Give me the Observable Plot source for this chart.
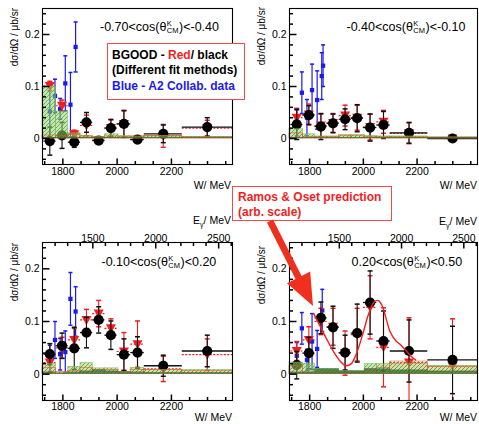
<!DOCTYPE html>
<html><head><meta charset="utf-8">
<script src="https://cdn.jsdelivr.net/npm/d3@7"></script>
<script src="https://cdn.jsdelivr.net/npm/@observablehq/plot@0.6"></script>
<style>
body{margin:0;background:#fff;}
#wrap{position:relative;width:479px;height:424px;overflow:hidden;font-family:"Liberation Sans",Arial,Helvetica,sans-serif;color:#000;}
.panel{position:absolute;}
.ttl{position:absolute;white-space:nowrap;font-size:12.5px;display:flex;align-items:center;height:18px;}
.ss{display:inline-flex;flex-direction:column;font-size:7.5px;line-height:7.5px;margin:0 0.5px;}
.ylab{position:absolute;writing-mode:vertical-rl;transform:rotate(180deg);font-size:10px;line-height:12px;white-space:nowrap;}
.unit{position:absolute;font-size:10.5px;white-space:nowrap;transform:translate(-100%,-50%);}
.box{position:absolute;background:#fff;border:1.3px solid #ef4a4a;font-weight:bold;font-size:12px;line-height:15.3px;padding:4px 0 0 4px;box-sizing:border-box;white-space:nowrap;}
</style></head>
<body><div id="wrap"></div>
<svg width="0" height="0" style="position:absolute">
<defs>
<pattern id="hatchG" patternUnits="userSpaceOnUse" width="4" height="4">
<rect width="4" height="4" fill="rgba(140,215,110,0.55)"/>
<path d="M-1,1 l2,-2 M0,4 l4,-4 M3,5 l2,-2" stroke="rgba(100,145,45,0.85)" stroke-width="0.8"/>
</pattern>
<pattern id="hatchR" patternUnits="userSpaceOnUse" width="4" height="4">
<path d="M-1,1 l2,-2 M0,4 l4,-4 M3,5 l2,-2" stroke="rgba(215,95,45,0.85)" stroke-width="0.8"/>
</pattern>
</defs></svg>
<script>
// ---------- data ----------
const W     = [1752, 1797, 1842, 1887, 1932, 1977, 2025, 2075, 2170, 2332];
const binLo = [1730, 1775, 1820, 1865, 1910, 1955, 2000, 2050, 2100, 2240];
const binHi = [1775, 1820, 1865, 1910, 1955, 2000, 2050, 2100, 2240, 2425];
const sysLo = [1725, 1775, 1820, 1865, 1910, 1955, 2005, 2050, 2100, 2240];
const sysHi = [1775, 1820, 1865, 1910, 1955, 2005, 2050, 2100, 2240, 2425];

const cosLo = ["-0.70", "-0.40", "-0.10", "0.20"];
const cosHi = ["-0.40", "-0.10", "0.20", "0.50"];

// panel 1: -0.70..-0.40
const black1    = [-0.005, 0.006, -0.007, 0.031, -0.004, 0.020, 0.028, -0.002, 0.009, 0.022];
const blackErr1 = [0.027, 0.025, 0.010, 0.019, 0.006, 0.016, 0.026, 0.005, 0.017, 0.018];
const red1      = [0.101, 0.063, 0.008, 0.025, -0.003, 0.020, 0.028, -0.002, 0.005, 0.020];
const redErr1   = [0.009, 0.011, 0.008, 0.020, 0.005, 0.017, 0.025, 0.005, 0.022, 0.015];
const blueW1    = [1752, 1771, 1790, 1809, 1828, 1847];
const blue1     = [0.052, 0.082, 0.057, 0.106, 0.065, 0.176];
const blueErr1  = [0.055, 0.032, 0.020, 0.053, 0.062, 0.048];
const sysLight1 = [0.100, 0.052, 0.010, 0.005, 0.003, 0.008, 0.005, 0.003, 0.005, 0.003];
const sysDark1  = [0.002, 0.002, 0.002, 0.002, 0.002, 0.002, 0.002, 0.002, 0.002, 0.002];
const sysRed1   = [0.006, 0.004, 0.008, 0.004, 0.002, 0.004, 0.003, 0.004, 0.005, 0.003];

// panel 2: -0.40..-0.10
const black2    = [0.027, 0.045, 0.023, 0.029, 0.037, 0.039, 0.021, 0.026, 0.011, 0.000];
const blackErr2 = [0.029, 0.018, 0.025, 0.018, 0.020, 0.026, 0.026, 0.026, 0.020, 0.004];
const red2      = [0.040, 0.046, 0.025, 0.030, 0.044, 0.040, 0.022, 0.032, 0.010, 0.000];
const redErr2   = [0.018, 0.020, 0.022, 0.018, 0.020, 0.024, 0.025, 0.022, 0.020, 0.004];
const blueW2    = [1752, 1771, 1790, 1809, 1828, 1845, 1850];
const blue2     = [0.030, 0.088, 0.040, 0.093, 0.074, 0.120, 0.140];
const blueErr2  = [0.025, 0.040, 0.035, 0.050, 0.056, 0.045, 0.040];
const sysLight2 = [0.018, 0.008, 0.004, 0.004, 0.007, 0.007, 0.005, 0.004, 0.004, 0.002];
const sysDark2  = [0.002, 0.002, 0.002, 0.002, 0.002, 0.002, 0.002, 0.002, 0.002, 0.002];
const sysRed2   = [0.010, 0.003, 0.003, 0.003, 0.005, 0.005, 0.003, 0.003, 0.003, 0.002];

// panel 3: -0.10..0.20
const black3    = [0.038, 0.054, 0.049, 0.079, 0.103, 0.074, 0.037, 0.041, 0.016, 0.044];
const blackErr3 = [0.020, 0.024, 0.040, 0.029, 0.025, 0.027, 0.030, 0.030, 0.020, 0.030];
const red3      = [0.022, 0.050, 0.065, 0.103, 0.115, 0.087, 0.043, 0.057, 0.010, 0.037];
const redErr3   = [0.020, 0.020, 0.022, 0.020, 0.025, 0.018, 0.036, 0.044, 0.024, 0.030];
const blueW3    = [1752, 1771, 1790, 1809, 1828, 1847];
const blue3     = [0.030, 0.065, 0.038, 0.042, 0.143, 0.119];
const blueErr3  = [0.025, 0.035, 0.030, 0.040, 0.050, 0.047];
const sysLight3 = [0.019, 0.003, 0.014, 0.021, 0.011, 0.011, 0.004, 0.012, 0.008, 0.008];
const sysDark3  = [0.004, 0.002, 0.004, 0.006, 0.008, 0.006, 0.004, 0.004, 0.003, 0.003];
const sysRed3   = [0.012, 0.004, 0.006, 0.012, 0.008, 0.008, 0.004, 0.008, 0.008, 0.006];

// panel 4: 0.20..0.50
const black4    = [0.017, 0.040, 0.107, 0.089, 0.041, 0.078, 0.136, 0.063, 0.044, 0.027];
const blackErr4 = [0.026, 0.030, 0.030, 0.040, 0.033, 0.055, 0.060, 0.057, 0.059, 0.064];
const red4      = [0.044, 0.065, 0.100, 0.090, 0.040, 0.075, 0.127, 0.051, 0.022, 0.015];
const redErr4   = [0.018, 0.025, 0.025, 0.035, 0.042, 0.050, 0.060, 0.075, 0.085, 0.090];
const blueW4    = [1752, 1771, 1790, 1809, 1828, 1847];
const blue4     = [0.035, 0.087, 0.027, 0.062, 0.048, 0.121];
const blueErr4  = [0.025, 0.030, 0.020, 0.053, 0.035, 0.040];
const sysLight4 = [0.022, 0.020, 0.010, 0.010, 0.006, 0.006, 0.019, 0.019, 0.020, 0.016];
const sysDark4  = [0.004, 0.004, 0.010, 0.010, 0.006, 0.006, 0.010, 0.010, 0.008, 0.006];
const sysRed4   = [0.015, 0.003, 0.003, 0.003, 0.003, 0.003, 0.010, 0.012, 0.024, 0.014];
// Ramos & Oset prediction (arb. scale)
const curveW = [1815, 1840, 1865, 1890, 1915, 1935, 1955, 1975, 2000, 2020, 2040, 2055, 2070, 2085, 2100, 2120, 2140, 2160, 2180, 2195];
const curveV = [0.115, 0.090, 0.065, 0.042, 0.024, 0.016, 0.020, 0.040, 0.080, 0.115, 0.137, 0.140, 0.130, 0.105, 0.080, 0.064, 0.055, 0.044, 0.033, 0.027];

// axis ticks
const yMajor = [0, 0.1, 0.2];
const yMinor = [-0.04, -0.02, 0.02, 0.04, 0.06, 0.08, 0.12, 0.14, 0.16, 0.18, 0.22, 0.24];
const xMajor = [1800, 2000, 2200];
const xMinor = [1733, 1867, 1933, 2067, 2133, 2267, 2333, 2400];
const egMajor = [1500, 2000, 2500];
const egMinor = [1200, 1300, 1400, 1600, 1700, 1800, 1900, 2100, 2200, 2300, 2400, 2600];
const wDomain = [1725, 2425];
const egDomain = [1100, 2610];

// ---------- helpers ----------
const sym = fn => ({draw(ctx, size){ const r = Math.sqrt(size / Math.PI); fn(ctx, r); }});
const capSym = sym((c, r) => { c.moveTo(-r, 0); c.lineTo(r, 0); });
const tickUp = sym((c, r) => { c.moveTo(0, 0); c.lineTo(0, -r); });
const tickDown = sym((c, r) => { c.moveTo(0, 0); c.lineTo(0, r); });
const tickRight = sym((c, r) => { c.moveTo(0, 0); c.lineTo(r, 0); });
const triDown = sym((c, r) => { c.moveTo(-r, -0.8 * r); c.lineTo(r, -0.8 * r); c.lineTo(0, r); c.closePath(); });
const egToW = e => wDomain[0] + (e - egDomain[0]) / (egDomain[1] - egDomain[0]) * (wDomain[1] - wDomain[0]);

const RED = "#f21e1e", BLUE = "#1a1af0";

const panels = [
  {black: black1, blackErr: blackErr1, red: red1, redErr: redErr1, blueW: blueW1, blue: blue1, blueErr: blueErr1, sysLight: sysLight1, sysDark: sysDark1, sysRed: sysRed1},
  {black: black2, blackErr: blackErr2, red: red2, redErr: redErr2, blueW: blueW2, blue: blue2, blueErr: blueErr2, sysLight: sysLight2, sysDark: sysDark2, sysRed: sysRed2},
  {black: black3, blackErr: blackErr3, red: red3, redErr: redErr3, blueW: blueW3, blue: blue3, blueErr: blueErr3, sysLight: sysLight3, sysDark: sysDark3, sysRed: sysRed3},
  {black: black4, blackErr: blackErr4, red: red4, redErr: redErr4, blueW: blueW4, blue: blue4, blueErr: blueErr4, sysLight: sysLight4, sysDark: sysDark4, sysRed: sysRed4, curve: true}
];
const geo = [
  {left: 0,   top: 0,   w: 240, h: 200, ml: 42, mr: 8, mt: 8,  mb: 36, topAxis: false, tp: 3},
  {left: 240, top: 0,   w: 239, h: 200, ml: 49, mr: 2, mt: 8,  mb: 36, topAxis: false, tp: 3},
  {left: 0,   top: 200, w: 240, h: 224, ml: 42, mr: 8, mt: 42, mb: 24, topAxis: true,  tp: 2},
  {left: 240, top: 200, w: 239, h: 224, ml: 49, mr: 2, mt: 42, mb: 24, topAxis: true,  tp: 2}
];

const wrap = document.getElementById("wrap");

panels.forEach((p, k) => {
  const g = geo[k];
  const rows = W.map((w, i) => ({w, lo: binLo[i], hi: binHi[i], b: p.black[i], be: p.blackErr[i], r: p.red[i], re: p.redErr[i]}));
  const blues = p.blueW.map((w, i) => ({w, v: p.blue[i], e: p.blueErr[i]}));
  const sys = sysLo.map((lo, i) => ({lo, hi: sysHi[i], L: p.sysLight[i], D: p.sysDark[i], R: p.sysRed[i]}));
  const marks = [
    // A2 data
    Plot.ruleX(blues, {x: "w", y1: d => d.v - d.e, y2: d => d.v + d.e, stroke: BLUE, strokeWidth: 1.2, clip: true}),
    Plot.dot(blues, {x: "w", y: d => d.v + d.e, symbol: capSym, r: 2, stroke: BLUE, clip: true}),
    Plot.dot(blues, {x: "w", y: d => d.v - d.e, symbol: capSym, r: 2, stroke: BLUE, clip: true}),
    Plot.dot(blues, {x: "w", y: "v", symbol: "square", r: 2.4, fill: BLUE, stroke: "none"}),
    // red fit method
    Plot.ruleX(rows, {x: "w", y1: d => d.r - d.re, y2: d => d.r + d.re, stroke: RED, strokeWidth: 1.1, clip: true}),
    Plot.dot(rows, {x: "w", y: d => d.r + d.re, symbol: capSym, r: 2.5, stroke: RED, clip: true}),
    Plot.dot(rows, {x: "w", y: d => d.r - d.re, symbol: capSym, r: 2.5, stroke: RED, clip: true}),
    Plot.ruleY(rows, {y: "r", x1: "lo", x2: "hi", stroke: RED, strokeWidth: 1.2, strokeDasharray: "2,1.5", clip: true}),
    Plot.dot(rows, {x: "w", y: "r", symbol: triDown, r: 5, fill: RED, stroke: "none"}),
    // black fit method
    Plot.ruleX(rows, {x: "w", y1: d => d.b - d.be, y2: d => d.b + d.be, stroke: "#111", strokeWidth: 1.1, clip: true}),
    Plot.dot(rows, {x: "w", y: d => d.b + d.be, symbol: capSym, r: 2.5, stroke: "#111", clip: true}),
    Plot.dot(rows, {x: "w", y: d => d.b - d.be, symbol: capSym, r: 2.5, stroke: "#111", clip: true}),
    Plot.ruleY(rows, {y: "b", x1: "lo", x2: "hi", stroke: "#111", strokeWidth: 1.3, clip: true}),
    Plot.dot(rows, {x: "w", y: "b", r: 5.1, fill: "#000", stroke: "none"}),
    // systematic bands
    Plot.rect(sys, {x1: "lo", x2: "hi", y1: 0, y2: "L", fill: "url(#hatchG)", stroke: "rgba(120,170,70,0.8)", strokeWidth: 0.6}),
    Plot.rect(sys, {x1: "lo", x2: "hi", y1: 0, y2: "R", fill: "url(#hatchR)", stroke: "rgba(225,90,50,0.8)", strokeWidth: 0.7}),
    Plot.rect(sys, {x1: "lo", x2: "hi", y1: 0, y2: "D", fill: "rgba(45,105,45,0.75)"}),
  ];
  if (p.curve) {
    marks.push(Plot.line(curveW.map((w, i) => ({w, v: curveV[i]})), {x: "w", y: "v", stroke: RED, strokeWidth: 1.4, curve: "catmull-rom"}));
  }
  marks.push(
    Plot.dot(yMajor, {y: d => d, frameAnchor: "left", symbol: tickRight, r: 7, stroke: "#000"}),
    Plot.dot(yMinor, {y: d => d, frameAnchor: "left", symbol: tickRight, r: 3.5, stroke: "#000"}),
    Plot.dot(xMajor, {x: d => d, frameAnchor: "bottom", symbol: tickUp, r: 6, stroke: "#000"}),
    Plot.dot(xMinor, {x: d => d, frameAnchor: "bottom", symbol: tickUp, r: 3.5, stroke: "#000"}),
    Plot.axisY({ticks: yMajor, tickSize: 0, tickPadding: 3, label: null, fontSize: 10.5, tickFormat: d => d === 0 ? "0" : d.toFixed(1)}),
    Plot.axisX({ticks: xMajor, tickSize: 0, tickPadding: g.tp, label: null, fontSize: 10.5, tickFormat: d => String(d)}),
    Plot.frame({stroke: "#000", strokeWidth: 1.1})
  );
  if (g.topAxis) {
    marks.push(
      Plot.dot(egMajor, {x: d => egToW(d), frameAnchor: "top", symbol: tickDown, r: 6, stroke: "#000"}),
      Plot.dot(egMinor, {x: d => egToW(d), frameAnchor: "top", symbol: tickDown, r: 3.5, stroke: "#000"}),
      Plot.text(egMajor, {x: d => egToW(d), frameAnchor: "top", dy: -8, text: d => String(d), fontSize: 10.5, fill: "#000"})
    );
  }
  const chart = Plot.plot({
    width: g.w, height: g.h,
    marginLeft: g.ml, marginRight: g.mr, marginTop: g.mt, marginBottom: g.mb,
    x: {domain: wDomain},
    y: {domain: [-0.05, 0.25]},
    style: {background: "transparent", fontFamily: "Liberation Sans, Arial, sans-serif", color: "#000", overflow: "visible"},
    marks
  });
  const div = document.createElement("div");
  div.className = "panel";
  div.style.left = g.left + "px"; div.style.top = g.top + "px";
  div.appendChild(chart);
  wrap.appendChild(div);
});

// ---------- text overlays ----------
const titlePos = [[100, 27], [346.5, 27], [101.5, 262], [351.5, 262]];
titlePos.forEach(([x, y], k) => {
  const t = document.createElement("div");
  t.className = "ttl";
  t.style.left = x + "px"; t.style.top = (y - 9) + "px";
  t.innerHTML = `<span>${cosLo[k]}&lt;cos(θ</span><span class="ss"><span>K</span><span>CM</span></span><span>)&lt;${cosHi[k]}</span>`;
  wrap.appendChild(t);
});
const ylabPos = [[9, 8], [255.5, 7], [9, 243], [256, 246]];
ylabPos.forEach(([x, y]) => {
  const t = document.createElement("div");
  t.className = "ylab";
  t.style.left = x + "px"; t.style.top = y + "px";
  t.textContent = "dσ/dΩ / μb/sr";
  wrap.appendChild(t);
});
const unitPos = [[231, 185, "W/ MeV"], [477, 185, "W/ MeV"], [232, 416.5, "W/ MeV"], [477, 416.5, "W/ MeV"], [231, 221, "E<sub style='font-size:7px'>γ</sub>/ MeV"], [477, 222, "E<sub style='font-size:7px'>γ</sub>/ MeV"]];
unitPos.forEach(([x, y, s]) => {
  const t = document.createElement("div");
  t.className = "unit";
  t.style.left = x + "px"; t.style.top = y + "px";
  t.innerHTML = s;
  wrap.appendChild(t);
});

// legend box
const leg = document.createElement("div");
leg.className = "box";
Object.assign(leg.style, {left: "107px", top: "43px", width: "138px", height: "57px"});
leg.innerHTML = `<div>BGOOD - <span style="color:${RED}">Red</span>/ black</div><div>(Different fit methods)</div><div style="color:${BLUE}">Blue - A2 Collab. data</div>`;
wrap.appendChild(leg);

// Ramos & Oset box
const ro = document.createElement("div");
ro.className = "box";
Object.assign(ro.style, {left: "232px", top: "186px", width: "160px", height: "35px", color: RED, paddingTop: "3px", paddingLeft: "5px"});
ro.innerHTML = `<div>Ramos &amp; Oset prediction</div><div>(arb. scale)</div>`;
wrap.appendChild(ro);

// arrow
const tail = [270, 221], tip = [313, 306];
const dx = tip[0] - tail[0], dy = tip[1] - tail[1], len = Math.hypot(dx, dy);
const ux = dx / len, uy = dy / len, nx = -uy, ny = ux;
const headL = 32, headW = 13, shaftW = 3.4;
const bx = tip[0] - ux * headL, by = tip[1] - uy * headL;
const pts = [
  [tail[0] + nx * shaftW, tail[1] + ny * shaftW],
  [bx + nx * shaftW, by + ny * shaftW],
  [bx + nx * headW, by + ny * headW],
  tip,
  [bx - nx * headW, by - ny * headW],
  [bx - nx * shaftW, by - ny * shaftW],
  [tail[0] - nx * shaftW, tail[1] - ny * shaftW]
];
const ar = d3.create("svg").attr("width", 479).attr("height", 424)
  .style("position", "absolute").style("left", 0).style("top", 0).style("pointer-events", "none");
ar.append("polygon").attr("points", pts.map(p => p.join(",")).join(" ")).attr("fill", "#f0301e");
wrap.appendChild(ar.node());
</script>
</body></html>
